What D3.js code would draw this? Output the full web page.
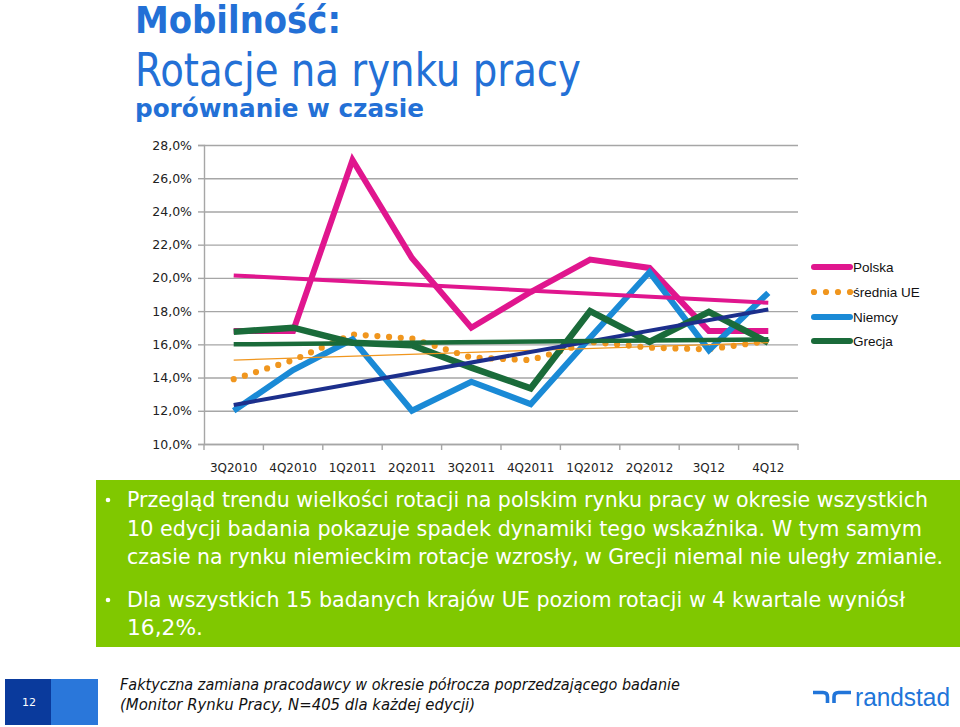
<!DOCTYPE html>
<html><head><meta charset="utf-8">
<script src="https://cdnjs.cloudflare.com/ajax/libs/d3/7.8.5/d3.min.js"></script>
<style>
html,body{margin:0;padding:0;background:#fff;}
svg{display:block;}
</style></head>
<body>
<script>
// ---- data ----
const categories = ["3Q2010","4Q2010","1Q2011","2Q2011","3Q2011","4Q2011","1Q2012","2Q2012","3Q12","4Q12"];
const polska  = [16.8, 16.8, 27.1, 21.2, 17.0, 19.15, 21.1, 20.6, 16.8, 16.8];
const sredniaUE = [13.9, 15.05, 16.6, 16.35, 15.2, 15.05, 16.15, 15.8, 15.7, 16.2];
const niemcy  = [12.0, 14.45, 16.3, 12.0, 13.75, 12.4, 16.4, 20.35, 15.65, 19.1];
const grecja  = [16.75, 17.0, 16.1, 15.95, 14.6, 13.35, 18.0, 16.15, 17.95, 16.1];
// linear trend lines: values at first and last category
const trendPolska = [20.15, 18.5];
const trendUE     = [15.05, 16.1];
const trendNiemcy = [12.35, 18.1];
const trendGrecja = [16.0, 16.3];
const yTicks = [10,12,14,16,18,20,22,24,26,28];
const yTickLabels = ["10,0%","12,0%","14,0%","16,0%","18,0%","20,0%","22,0%","24,0%","26,0%","28,0%"];
const legendNames = ["Polska","średnia UE","Niemcy","Grecja"];

const W = 960, H = 727;
const svg = d3.select("body").append("svg").attr("width",W).attr("height",H);

const blue = "#2370d6";
// ---- titles ----
svg.append("text").attr("x",135).attr("y",33).text("Mobilność:")
  .attr("font-family","DejaVu Sans").attr("font-weight","bold").attr("font-size",37)
  .attr("fill",blue).attr("textLength",206).attr("lengthAdjust","spacingAndGlyphs");
svg.append("text").attr("x",135).attr("y",86).text("Rotacje na rynku pracy")
  .attr("font-family","DejaVu Sans").attr("font-size",46)
  .attr("fill",blue).attr("textLength",446).attr("lengthAdjust","spacingAndGlyphs");
svg.append("text").attr("x",135).attr("y",117).text("porównanie w czasie")
  .attr("font-family","DejaVu Sans").attr("font-weight","bold").attr("font-size",24)
  .attr("fill",blue).attr("textLength",289).attr("lengthAdjust","spacingAndGlyphs");

// ---- scales ----
const x = d3.scaleBand().domain(categories).range([204,798]).padding(0);
const y = d3.scaleLinear().domain([10,28]).range([444,145]);
const cx = c => x(c) + x.bandwidth()/2;

const g = svg.append("g");
// grid
g.append("g").attr("transform","translate(204,0)")
  .call(d3.axisLeft(y).tickValues(yTicks).tickSize(-594).tickFormat(""))
  .call(s=>s.select(".domain").remove())
  .call(s=>s.selectAll("line").attr("stroke","#a6a6a6").attr("stroke-width",1.4));
// y axis
g.append("g").attr("transform","translate(204,0)")
  .call(d3.axisLeft(y).tickValues(yTicks).tickSize(6).tickPadding(6)
      .tickFormat((d,i)=>yTickLabels[i]))
  .call(s=>s.select(".domain").attr("stroke","#a6a6a6").attr("stroke-width",1.4))
  .call(s=>s.selectAll("line").attr("stroke","#a6a6a6").attr("stroke-width",1.4))
  .call(s=>s.selectAll("text").attr("font-family","DejaVu Sans").attr("font-size",12.5).attr("fill","#222"));
// x axis
const xa = g.append("g").attr("transform","translate(0,444)")
  .call(d3.axisBottom(x).tickSize(0).tickPadding(19))
  .call(s=>s.select(".domain").attr("stroke","#a6a6a6").attr("stroke-width",1.4))
  .call(s=>s.selectAll("text").attr("font-family","DejaVu Sans").attr("font-size",12).attr("fill","#222"));
xa.selectAll(".bt").data(d3.range(categories.length+1)).enter().append("line")
  .attr("x1",i=>x.range()[0]+i*x.step()).attr("x2",i=>x.range()[0]+i*x.step())
  .attr("y1",0).attr("y2",6).attr("stroke","#a6a6a6").attr("stroke-width",1.4);

// ---- series ----
const line = d3.line().x((d,i)=>cx(categories[i])).y(d=>y(d));
const colPL = "#e0168e", colUE = "#f0961e", colDE = "#1a8ad6", colGR = "#1a6b3a", colNavy = "#1c2f8c";
const trendLine = (arr) => d3.line().x((d,i)=>cx(categories[i===0?0:categories.length-1])).y(d=>y(d))(arr);

const series = [
  {d:polska, c:colPL, w:6},
  {d:niemcy, c:colDE, w:6},
  {d:grecja, c:colGR, w:6.5},
];
g.append("path").attr("d",line(polska)).attr("fill","none").attr("stroke",colPL).attr("stroke-width",6).attr("stroke-linejoin","miter");
g.append("path").attr("d",line(sredniaUE)).attr("fill","none").attr("stroke",colUE).attr("stroke-width",6.2)
  .attr("stroke-dasharray","0 11.7").attr("stroke-linecap","round");
g.append("path").attr("d",line(niemcy)).attr("fill","none").attr("stroke",colDE).attr("stroke-width",6).attr("stroke-linejoin","miter");
g.append("path").attr("d",line(grecja)).attr("fill","none").attr("stroke",colGR).attr("stroke-width",6.5).attr("stroke-linejoin","miter");
// trends
g.append("path").attr("d",trendLine(trendPolska)).attr("stroke",colPL).attr("stroke-width",4).attr("fill","none");
g.append("path").attr("d",trendLine(trendUE)).attr("stroke",colUE).attr("stroke-width",1.3).attr("fill","none");
g.append("path").attr("d",trendLine(trendNiemcy)).attr("stroke",colNavy).attr("stroke-width",4).attr("fill","none");
g.append("path").attr("d",trendLine(trendGrecja)).attr("stroke",colGR).attr("stroke-width",4.5).attr("fill","none");

// ---- legend ----
const lg = svg.append("g");
const legCols = [colPL, colUE, colDE, colGR];
const legY = [267, 292, 317, 341];
legendNames.forEach((n,i)=>{
  const l = lg.append("line").attr("x1",814).attr("x2",850).attr("y1",legY[i]).attr("y2",legY[i])
    .attr("stroke",legCols[i]);
  if(i===1){ l.attr("stroke-width",6.2).attr("stroke-dasharray","0 12").attr("stroke-linecap","round").attr("x1",814).attr("x2",851); }
  else { l.attr("stroke-width",6).attr("stroke-linecap","round"); }
  lg.append("text").attr("x",853).attr("y",legY[i]+4.5).text(n)
    .attr("font-family","Liberation Sans").attr("font-size",13.5).attr("fill","#111");
});

// ---- green box ----
svg.append("rect").attr("x",96).attr("y",480).attr("width",864).attr("height",167).attr("fill","#80c800");
const boxLines = [
  {t:"Przegląd trendu wielkości rotacji na polskim rynku pracy w okresie wszystkich", y:507, w:801, b:true},
  {t:"10 edycji badania pokazuje spadek dynamiki tego wskaźnika.  W tym samym", y:536, w:795},
  {t:"czasie na rynku niemieckim rotacje wzrosły, w Grecji niemal nie uległy zmianie.", y:564, w:816},
  {t:"Dla wszystkich 15 badanych krajów UE poziom rotacji w 4 kwartale wyniósł", y:607, w:778, b:true},
  {t:"16,2%.", y:635, w:76},
];
boxLines.forEach(l=>{
  if(l.b) svg.append("circle").attr("cx",108).attr("cy",l.y-7).attr("r",2.3).attr("fill","#fff");
  svg.append("text").attr("x",127).attr("y",l.y).text(l.t)
    .attr("font-family","DejaVu Sans").attr("font-size",20.5).attr("fill","#fff")
    .attr("textLength",l.w).attr("lengthAdjust","spacingAndGlyphs");
});

// ---- footer ----
svg.append("rect").attr("x",5).attr("y",679).attr("width",46).attr("height",46).attr("fill","#0a3a9c");
svg.append("rect").attr("x",51).attr("y",679).attr("width",47).attr("height",46).attr("fill","#2a77da");
svg.append("text").attr("x",29).attr("y",706).attr("text-anchor","middle").text("12")
  .attr("font-family","DejaVu Sans").attr("font-size",11).attr("fill","#fff");
svg.append("text").attr("x",120).attr("y",690).text("Faktyczna zamiana pracodawcy w okresie półrocza poprzedzającego badanie")
  .attr("font-family","DejaVu Sans").attr("font-style","italic").attr("font-size",15).attr("fill","#111")
  .attr("textLength",560).attr("lengthAdjust","spacingAndGlyphs");
svg.append("text").attr("x",120).attr("y",710).text("(Monitor Rynku Pracy, N=405 dla każdej  edycji)")
  .attr("font-family","DejaVu Sans").attr("font-style","italic").attr("font-size",15).attr("fill","#111")
  .attr("textLength",355).attr("lengthAdjust","spacingAndGlyphs");
// logo
const logoC = "#2175d9";
svg.append("path").attr("d","M813,692.5 H823 Q827.5,692.5 827.5,697 V703")
  .attr("fill","none").attr("stroke",logoC).attr("stroke-width",3.6);
svg.append("path").attr("d","M834,703 V697 Q834,692.5 838.5,692.5 H851")
  .attr("fill","none").attr("stroke",logoC).attr("stroke-width",3.6);
svg.append("text").attr("x",855).attr("y",706).text("randstad")
  .attr("font-family","Liberation Sans").attr("font-size",25).attr("fill",logoC)
  .attr("textLength",95).attr("lengthAdjust","spacingAndGlyphs");
</script>
</body></html>
